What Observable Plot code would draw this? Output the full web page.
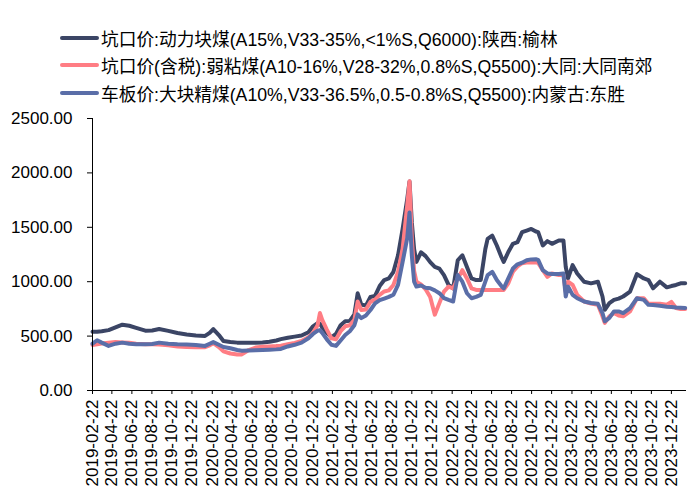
<!DOCTYPE html>
<html>
<head>
<meta charset="utf-8">
<script src="https://cdn.jsdelivr.net/npm/d3@7"></script>
<script src="https://cdn.jsdelivr.net/npm/@observablehq/plot@0.6"></script>
<style>
  html, body { margin: 0; padding: 0; background: #fff; }
  #wrap { width: 700px; height: 503px; position: relative; overflow: hidden; font-family: "Liberation Sans", Arial, "Noto Sans CJK SC", sans-serif; }
  #legend { position: relative; height: 100px; }
  .row { position: absolute; left: 60px; height: 20px; display: flex; align-items: center; font-size: 17.7px; color: #000; white-space: nowrap; }
  .sw { width: 39px; height: 4px; margin-right: 2px; border-radius: 2px; }
</style>
</head>
<body>
<div id="wrap">
  <div id="legend"></div>
  <div id="chart"></div>
</div>
<script>
const seriesNames = [
  "坑口价:动力块煤(A15%,V33-35%,<1%S,Q6000):陕西:榆林",
  "坑口价(含税):弱粘煤(A10-16%,V28-32%,0.8%S,Q5500):大同:大同南郊",
  "车板价:大块精煤(A10%,V33-36.5%,0.5-0.8%S,Q5500):内蒙古:东胜"
];
const seriesColors = ["#3b4565", "#ff7d84", "#5a6ea8"];

const dates = [
"2019-02-22","2019-03-08","2019-03-22","2019-04-12","2019-05-03","2019-05-24","2019-06-14","2019-07-05","2019-08-02","2019-08-23",
"2019-09-13","2019-10-11","2019-11-08","2019-12-06","2020-01-03","2020-01-31","2020-02-14","2020-02-25","2020-03-13","2020-03-27",
"2020-04-17","2020-05-08","2020-05-22","2020-06-12","2020-07-03","2020-07-24","2020-08-14","2020-09-04","2020-09-18","2020-10-09",
"2020-10-30","2020-11-20","2020-12-11","2020-12-25","2021-01-08","2021-01-15","2021-01-22","2021-02-05","2021-02-19","2021-03-05",
"2021-03-19","2021-04-02","2021-04-16","2021-04-30","2021-05-10","2021-05-21","2021-06-04","2021-06-18","2021-07-02","2021-07-16",
"2021-07-30","2021-08-13","2021-08-27","2021-09-10","2021-09-24","2021-10-08","2021-10-15","2021-10-22","2021-10-29","2021-11-05",
"2021-11-19","2021-12-03","2021-12-17","2021-12-31","2022-01-14","2022-01-28","2022-02-11","2022-02-25","2022-03-11","2022-03-25",
"2022-04-08","2022-04-22","2022-05-06","2022-05-20","2022-06-03","2022-06-10","2022-06-24","2022-07-08","2022-07-22","2022-07-29",
"2022-08-12","2022-08-26","2022-09-09","2022-09-23","2022-10-07","2022-10-21","2022-11-04","2022-11-11","2022-11-25","2022-12-09",
"2022-12-23","2023-01-13","2023-01-27","2023-02-03","2023-02-10","2023-02-24","2023-03-10","2023-03-31","2023-04-21","2023-05-12",
"2023-05-26","2023-06-02","2023-06-16","2023-06-30","2023-07-14","2023-07-28","2023-08-18","2023-09-08","2023-09-29","2023-10-13",
"2023-10-27","2023-11-17","2023-12-08","2023-12-22","2024-01-05","2024-01-19","2024-02-02"
];

const yulin = [
540,540,545,555,580,605,595,575,550,552,
565,548,528,515,505,502,530,565,510,455,
445,440,438,440,440,442,448,460,472,485,
495,505,535,590,620,615,580,530,488,520,
600,636,640,700,894,790,780,860,870,960,
1015,1030,1091,1243,1485,1760,1920,1545,1300,1182,
1270,1235,1180,1136,1121,1061,970,939,1197,1243,
1136,1030,1015,1015,1300,1394,1424,1333,1227,1182,
1273,1348,1364,1455,1470,1485,1461,1455,1333,1373,
1348,1379,1379,1136,1030,1152,1076,1000,985,1000,
864,742,803,833,845,864,909,1070,1030,1015,
939,1000,948,960,970,985,985
];

const datong = [
418,425,432,440,445,442,438,430,425,425,
422,415,405,400,398,398,415,435,400,360,
340,330,332,372,395,402,405,408,412,425,
438,455,490,530,600,712,650,560,480,470,
545,590,600,650,818,740,745,815,835,880,
910,920,970,1091,1303,1700,1924,1394,1100,1000,
975,930,860,697,803,909,955,939,1030,1106,
1030,939,924,924,924,924,924,924,924,924,
985,1091,1140,1170,1176,1176,1176,1173,1106,1045,
1076,1061,1061,909,1000,970,879,818,800,788,
682,621,682,712,690,682,727,848,848,797,
797,797,788,815,758,749,749
];

const dongsheng = [
430,462,440,410,430,440,430,425,424,428,
440,430,425,422,418,410,430,445,420,400,
388,372,366,368,370,372,375,378,382,405,
420,440,480,520,550,555,530,470,420,410,
460,510,545,600,700,665,690,740,800,830,
845,860,880,970,1182,1400,1636,1242,1000,955,
965,945,940,920,894,850,833,818,1061,1000,
894,848,860,879,1000,1061,1091,1015,960,939,
1030,1121,1160,1175,1197,1205,1206,1200,1106,1076,
1070,1070,1076,864,955,879,848,818,805,797,
712,636,667,727,727,712,758,848,833,788,
785,779,770,767,762,760,758
];

const xTickLabels = [
"2019-02-22","2019-04-22","2019-06-22","2019-08-22","2019-10-22","2019-12-22",
"2020-02-22","2020-04-22","2020-06-22","2020-08-22","2020-10-22","2020-12-22",
"2021-02-22","2021-04-22","2021-06-22","2021-08-22","2021-10-22","2021-12-22",
"2022-02-22","2022-04-22","2022-06-22","2022-08-22","2022-10-22","2022-12-22",
"2023-02-22","2023-04-22","2023-06-22","2023-08-22","2023-10-22","2023-12-22"
];
const yTicks = [0, 500, 1000, 1500, 2000, 2500];

const parse = d3.utcParse("%Y-%m-%d");
const fmt = d3.utcFormat("%Y-%m-%d");
const valueLists = [yulin, datong, dongsheng];
const rows = [];
valueLists.forEach((vals, si) => {
  vals.forEach((v, i) => rows.push({date: parse(dates[i]), value: v, series: seriesNames[si]}));
});

// legend
const legend = document.getElementById("legend");
const rowTops = [28, 55, 83];
seriesNames.forEach((name, i) => {
  const r = document.createElement("div");
  r.className = "row";
  r.style.top = rowTops[i] + "px";
  const sw = document.createElement("div");
  sw.className = "sw";
  sw.style.background = seriesColors[i];
  const t = document.createElement("span");
  t.textContent = name;
  r.appendChild(sw); r.appendChild(t);
  legend.appendChild(r);
});

const x0 = parse("2019-02-22");
const x1 = parse("2024-02-06");

const chart = Plot.plot({
  width: 700,
  height: 403,
  marginLeft: 92,
  marginRight: 14,
  marginTop: 18,
  marginBottom: 113,
  style: {fontFamily: "'Liberation Sans', Arial, sans-serif", color: "#000", background: "#fff"},
  x: {type: "utc", domain: [x0, x1]},
  y: {domain: [0, 2500]},
  color: {domain: seriesNames, range: seriesColors},
  marks: [
    Plot.line(rows, {x: "date", y: "value", z: "series", stroke: "series", strokeWidth: 4, strokeLinejoin: "round", strokeLinecap: "round"}),
    Plot.ruleX([x0], {stroke: "#000", strokeWidth: 1}),
    Plot.ruleY([0], {stroke: "#000", strokeWidth: 1}),
    Plot.axisY({ticks: yTicks, tickFormat: d => d.toFixed(2), tickSize: 5, tickPadding: 15, fontSize: 17, label: null, stroke: "#000"}),
    Plot.axisX({ticks: xTickLabels.map(parse), tickFormat: fmt, tickRotate: -90, tickSize: 4, tickPadding: 5, fontSize: 17, label: null, stroke: "#000"})
  ]
});
document.getElementById("chart").appendChild(chart);
</script>
</body>
</html>
